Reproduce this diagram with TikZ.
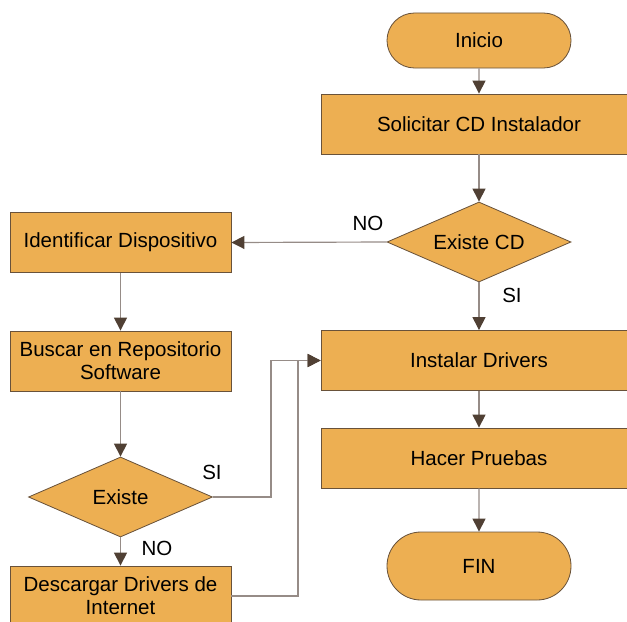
\documentclass[tikz,border=0pt]{standalone}
\usepackage{fontspec}
\setmainfont{Liberation Sans}
\usetikzlibrary{positioning, shapes.geometric, shapes.misc, arrows.meta}

\definecolor{boxfill}{RGB}{237,175,82}
\definecolor{boxline}{RGB}{105,82,58}
\definecolor{tipcol}{RGB}{80,64,52}
\definecolor{shaftcol}{RGB}{150,140,135}

\tikzset{
  base/.style={fill=boxfill, draw=boxline, line width=0.7pt, inner sep=0pt,
               font=\fontsize{17.5}{19.5}\selectfont, align=center},
  process/.style={base, rectangle, minimum width=9.48cm, minimum height=1.8cm},
  sideproc/.style={base, rectangle, minimum width=6.63cm, minimum height=1.8cm},
  terminal/.style={base, rounded rectangle, minimum width=5.52cm},
  decision/.style={base, diamond, aspect=2.3, minimum width=5.52cm, minimum height=2.4cm},
  flow/.style={draw=shaftcol, line width=1pt,
               -{Triangle[length=11pt, width=11pt, color=tipcol]}},
  lbl/.style={font=\fontsize{17.5}{19.5}\selectfont}
}

\begin{document}
\begin{tikzpicture}[x=0.03cm, y=-0.03cm]
  \useasboundingbox (0,0) rectangle (627,621);
  \clip (0,0) rectangle (627,621);

  % Main column (right)
  \node[terminal, minimum height=1.65cm] (inicio) at (479,40.5) {Inicio};
  \node[process] (solicitar) at (479,124) {Solicitar CD Instalador};
  \node[decision] (existecd) at (479,242) {Existe CD};
  \node[process] (instalar) at (479,360.5) {Instalar Drivers};
  \node[process] (pruebas) at (479,458) {Hacer Pruebas};
  \node[terminal, minimum height=2.04cm] (fin) at (479,566) {FIN};

  % Search branch (left)
  \node[sideproc] (identificar) at (120.5,242.5) {Identificar Dispositivo};
  \node[sideproc] (buscar) at (120.5,361) {Buscar en Repositorio\\Software};
  \node[decision] (existe) at (120.5,497) {Existe};
  \node[sideproc] (descargar) at (120.5,596) {Descargar Drivers de\\Internet};

  % Bends of the return lines
  \coordinate (siturn) at (271,497);
  \coordinate (dlturn) at (298,596);

  % Connectors
  \draw[flow] (inicio) -- (solicitar);
  \draw[flow] (solicitar) -- (existecd);
  \draw[flow] (existecd.west) -- (identificar.east);
  \draw[flow] (existecd.south) -- (instalar);
  \draw[flow] (identificar) -- (buscar);
  \draw[flow] (buscar) -- (existe);
  \draw[flow] (existe.south) -- (descargar);
  \draw[flow] (existe.east) -- (siturn) |- (instalar.west);
  \draw[flow] (descargar.east) -- (dlturn) |- (instalar.west);
  \draw[flow] (instalar) -- (pruebas);
  \draw[flow] (pruebas) -- (fin);

  % Branch labels
  \node[lbl] (nocd) at (368,223) {NO};
  \node[lbl] (sicd) at (512,295) {SI};
  \node[lbl] (siex) at (212,472) {SI};
  \node[lbl] (noex) at (157,548) {NO};
\end{tikzpicture}
\end{document}
